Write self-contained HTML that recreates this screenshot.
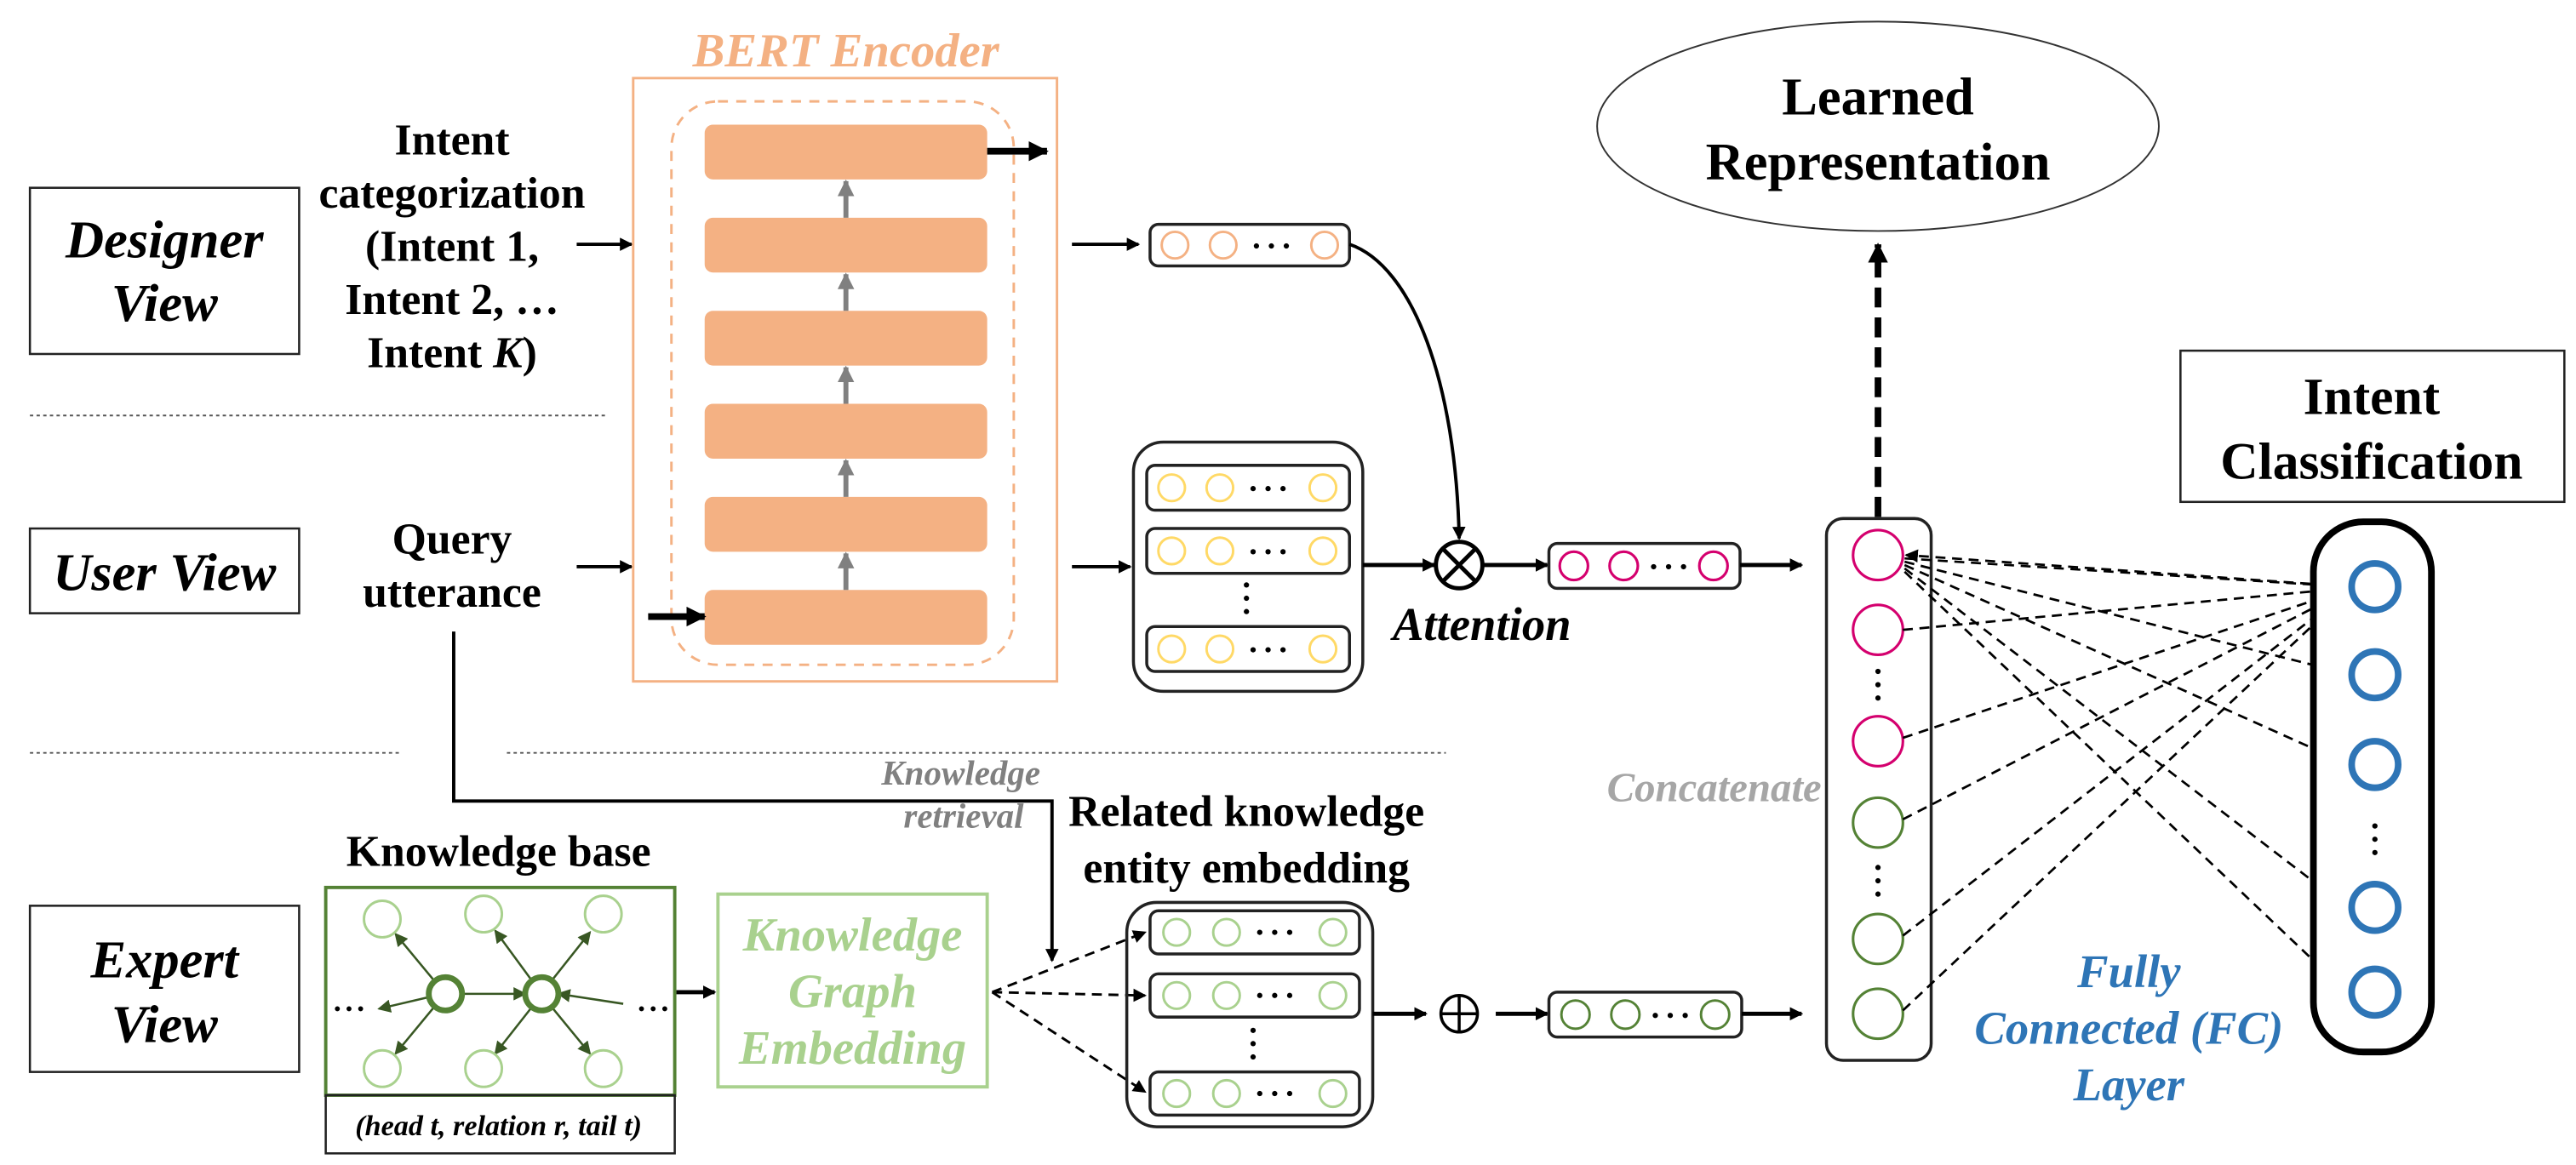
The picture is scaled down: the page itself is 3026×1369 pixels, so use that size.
<!DOCTYPE html>
<html><head><meta charset="utf-8"><style>
html,body{margin:0;padding:0;background:#fff;}
svg{display:block;}
text{font-family:"Liberation Serif",serif;font-weight:bold;}
</style></head><body>
<svg width="3026" height="1369" viewBox="0 0 1550 701" preserveAspectRatio="none" xmlns="http://www.w3.org/2000/svg">
<defs>
<marker id="ah" markerWidth="8" markerHeight="8" refX="7" refY="4" orient="auto" markerUnits="userSpaceOnUse"><path d="M0,0 L8,4 L0,8 z" fill="#000"/></marker>
<marker id="ahb" markerWidth="12" markerHeight="12" refX="11" refY="6" orient="auto" markerUnits="userSpaceOnUse"><path d="M0,0 L12,6 L0,12 z" fill="#000"/></marker>
<marker id="ahg" markerWidth="10" markerHeight="10" refX="9" refY="5" orient="auto" markerUnits="userSpaceOnUse"><path d="M0,0 L10,5 L0,10 z" fill="#808080"/></marker>
<marker id="ahk" markerWidth="8" markerHeight="8" refX="7" refY="4" orient="auto" markerUnits="userSpaceOnUse"><path d="M0,0 L8,4 L0,8 z" fill="#385723"/></marker>
</defs>

<!-- View boxes -->
<rect x="18" y="113" width="162" height="100" fill="none" stroke="#222" stroke-width="1.3"/>
<text x="99" y="155" font-size="32" font-style="italic" text-anchor="middle">Designer</text>
<text x="99" y="193" font-size="32" font-style="italic" text-anchor="middle">View</text>
<rect x="18" y="318" width="162" height="51" fill="none" stroke="#222" stroke-width="1.3"/>
<text x="99" y="355" font-size="32" font-style="italic" text-anchor="middle">User View</text>
<rect x="18" y="545" width="162" height="100" fill="none" stroke="#222" stroke-width="1.3"/>
<text x="99" y="588" font-size="32" font-style="italic" text-anchor="middle">Expert</text>
<text x="99" y="627" font-size="32" font-style="italic" text-anchor="middle">View</text>

<!-- dotted separators -->
<line x1="18" y1="250" x2="365" y2="250" stroke="#555" stroke-width="1" stroke-dasharray="2,2"/>
<line x1="18" y1="453" x2="240" y2="453" stroke="#555" stroke-width="1" stroke-dasharray="2,2"/>
<line x1="305" y1="453" x2="870" y2="453" stroke="#555" stroke-width="1" stroke-dasharray="2,2"/>

<!-- Intent categorization text -->
<g font-size="26.5" text-anchor="middle">
<text x="272" y="93">Intent</text>
<text x="272" y="125">categorization</text>
<text x="272" y="157">(Intent 1,</text>
<text x="272" y="189">Intent 2, …</text>
<text x="272" y="221">Intent <tspan font-style="italic">K</tspan>)</text>
<text x="272" y="333">Query</text>
<text x="272" y="365">utterance</text>
</g>
<line x1="347" y1="147" x2="380" y2="147" stroke="#000" stroke-width="2" marker-end="url(#ah)"/>
<line x1="347" y1="341" x2="380" y2="341" stroke="#000" stroke-width="2" marker-end="url(#ah)"/>

<!-- BERT -->
<text x="509" y="40" font-size="29" font-style="italic" fill="#f4b183" text-anchor="middle">BERT Encoder</text>
<rect x="381" y="47" width="255" height="363" fill="none" stroke="#f4b183" stroke-width="1.5"/>
<rect x="404" y="61" width="206" height="339" rx="28" fill="none" stroke="#f4b183" stroke-width="1.5" stroke-dasharray="6,5"/>
<g fill="#f4b183">
<rect x="424" y="75" width="170" height="33" rx="5"/>
<rect x="424" y="131" width="170" height="33" rx="5"/>
<rect x="424" y="187" width="170" height="33" rx="5"/>
<rect x="424" y="243" width="170" height="33" rx="5"/>
<rect x="424" y="299" width="170" height="33" rx="5"/>
<rect x="424" y="355" width="170" height="33" rx="5"/>
</g>
<g stroke="#808080" stroke-width="3" marker-end="url(#ahg)">
<line x1="509" y1="131" x2="509" y2="109"/>
<line x1="509" y1="187" x2="509" y2="165"/>
<line x1="509" y1="243" x2="509" y2="221"/>
<line x1="509" y1="299" x2="509" y2="277"/>
<line x1="509" y1="355" x2="509" y2="333"/>
</g>
<line x1="594" y1="91" x2="630" y2="91" stroke="#000" stroke-width="4" marker-end="url(#ahb)"/>
<line x1="390" y1="371" x2="424" y2="371" stroke="#000" stroke-width="4" marker-end="url(#ahb)"/>

<line x1="645" y1="147" x2="685" y2="147" stroke="#000" stroke-width="2" marker-end="url(#ah)"/>
<line x1="645" y1="341" x2="680" y2="341" stroke="#000" stroke-width="2" marker-end="url(#ah)"/>

<!-- designer vector -->
<rect x="692" y="135" width="120" height="25" rx="5" fill="#fff" stroke="#222" stroke-width="1.8"/>
<g fill="none" stroke="#f4b183" stroke-width="1.5"><circle cx="707" cy="147.5" r="8"/><circle cx="736" cy="147.5" r="8"/><circle cx="797" cy="147.5" r="8"/></g>
<g fill="#000"><circle cx="756" cy="148" r="1.6"/><circle cx="765" cy="148" r="1.6"/><circle cx="774" cy="148" r="1.6"/></g>

<!-- user group -->
<rect x="682" y="266" width="138" height="150" rx="18" fill="none" stroke="#222" stroke-width="1.8"/>
<g fill="#fff" stroke="#222" stroke-width="1.8">
<rect x="690" y="280" width="122" height="27" rx="5"/>
<rect x="690" y="318" width="122" height="27" rx="5"/>
<rect x="690" y="377" width="122" height="27" rx="5"/>
</g>
<g fill="none" stroke="#ffd966" stroke-width="1.5">
<circle cx="705" cy="293.5" r="8"/><circle cx="734" cy="293.5" r="8"/><circle cx="796" cy="293.5" r="8"/>
<circle cx="705" cy="331.5" r="8"/><circle cx="734" cy="331.5" r="8"/><circle cx="796" cy="331.5" r="8"/>
<circle cx="705" cy="390.5" r="8"/><circle cx="734" cy="390.5" r="8"/><circle cx="796" cy="390.5" r="8"/>
</g>
<g fill="#000">
<circle cx="754" cy="294" r="1.6"/><circle cx="763" cy="294" r="1.6"/><circle cx="772" cy="294" r="1.6"/>
<circle cx="754" cy="332" r="1.6"/><circle cx="763" cy="332" r="1.6"/><circle cx="772" cy="332" r="1.6"/>
<circle cx="754" cy="391" r="1.6"/><circle cx="763" cy="391" r="1.6"/><circle cx="772" cy="391" r="1.6"/>
<circle cx="750" cy="352" r="1.6"/><circle cx="750" cy="360" r="1.6"/><circle cx="750" cy="368" r="1.6"/>
</g>

<!-- attention -->
<path d="M812,147 C850,160 876,230 878,324" fill="none" stroke="#000" stroke-width="2" marker-end="url(#ah)"/>
<line x1="820" y1="340" x2="863" y2="340" stroke="#000" stroke-width="2.5" marker-end="url(#ah)"/>
<circle cx="878" cy="340" r="14" fill="#fff" stroke="#000" stroke-width="2.5"/>
<line x1="868" y1="330" x2="888" y2="350" stroke="#000" stroke-width="2.5"/>
<line x1="888" y1="330" x2="868" y2="350" stroke="#000" stroke-width="2.5"/>
<line x1="892" y1="340" x2="931" y2="340" stroke="#000" stroke-width="2.5" marker-end="url(#ah)"/>
<text x="838" y="385" font-size="28" font-style="italic">Attention</text>

<!-- pink vector -->
<rect x="932" y="327" width="115" height="27" rx="5" fill="#fff" stroke="#222" stroke-width="1.8"/>
<g fill="none" stroke="#d4006e" stroke-width="1.6"><circle cx="947" cy="340.5" r="8.5"/><circle cx="977" cy="340.5" r="8.5"/><circle cx="1031" cy="340.5" r="8.5"/></g>
<g fill="#000"><circle cx="995" cy="341" r="1.6"/><circle cx="1004" cy="341" r="1.6"/><circle cx="1013" cy="341" r="1.6"/></g>
<line x1="1047" y1="340" x2="1084" y2="340" stroke="#000" stroke-width="2.5" marker-end="url(#ah)"/>

<!-- knowledge retrieval line -->
<polyline points="273,380 273,482 633,482 633,578" fill="none" stroke="#000" stroke-width="2" marker-end="url(#ah)"/>
<text x="626" y="472" font-size="21" font-style="italic" fill="#808080" text-anchor="end">Knowledge</text>
<text x="616" y="498" font-size="21" font-style="italic" fill="#808080" text-anchor="end">retrieval</text>

<!-- knowledge base -->
<text x="300" y="521" font-size="26.5" text-anchor="middle">Knowledge base</text>
<rect x="196" y="534" width="210" height="125" fill="none" stroke="#548235" stroke-width="2"/>
<rect x="196" y="659" width="210" height="35" fill="none" stroke="#222" stroke-width="1.3"/>
<text x="300" y="683" font-size="17.5" font-style="italic" text-anchor="middle">(head t, relation r, tail t)</text>
<g stroke="#385723" stroke-width="1.3" marker-end="url(#ahk)">
<line x1="262" y1="591" x2="238" y2="562"/>
<line x1="262" y1="605" x2="238" y2="634"/>
<line x1="258" y1="600" x2="228" y2="607"/>
<line x1="320" y1="590" x2="298" y2="560"/>
<line x1="320" y1="606" x2="298" y2="634"/>
<line x1="332" y1="590" x2="355" y2="561"/>
<line x1="332" y1="606" x2="355" y2="634"/>
<line x1="278" y1="598" x2="316" y2="598"/>
<line x1="375" y1="604" x2="336" y2="598"/>
</g>
<g fill="none" stroke="#a9d18e" stroke-width="1.5">
<circle cx="230" cy="553" r="11"/><circle cx="291" cy="550" r="11"/><circle cx="363" cy="550" r="11"/>
<circle cx="230" cy="643" r="11"/><circle cx="291" cy="643" r="11"/><circle cx="363" cy="643" r="11"/>
</g>
<g fill="#fff" stroke="#548235" stroke-width="3.5"><circle cx="268" cy="598" r="10"/><circle cx="326" cy="598" r="10"/></g>
<g fill="#000"><circle cx="203" cy="607" r="1.5"/><circle cx="210" cy="607" r="1.5"/><circle cx="217" cy="607" r="1.5"/>
<circle cx="386" cy="607" r="1.5"/><circle cx="393" cy="607" r="1.5"/><circle cx="400" cy="607" r="1.5"/></g>
<line x1="407" y1="597" x2="430" y2="597" stroke="#000" stroke-width="2.5" marker-end="url(#ah)"/>

<!-- KGE -->
<rect x="432" y="538" width="162" height="116" fill="none" stroke="#a9d18e" stroke-width="2"/>
<g font-size="29" font-style="italic" fill="#a9d18e" text-anchor="middle">
<text x="513" y="572">Knowledge</text>
<text x="513" y="606">Graph</text>
<text x="513" y="640">Embedding</text>
</g>
<g stroke="#000" stroke-width="1.5" stroke-dasharray="6,4" marker-end="url(#ah)">
<line x1="597" y1="597" x2="689" y2="561"/>
<line x1="597" y1="597" x2="689" y2="599"/>
<line x1="597" y1="597" x2="689" y2="657"/>
</g>

<!-- related knowledge -->
<text x="750" y="497" font-size="26.5" text-anchor="middle">Related knowledge</text>
<text x="750" y="531" font-size="26.5" text-anchor="middle">entity embedding</text>
<rect x="678" y="543" width="148" height="135" rx="18" fill="none" stroke="#222" stroke-width="1.8"/>
<g fill="#fff" stroke="#222" stroke-width="1.8">
<rect x="692" y="548" width="126" height="26" rx="5"/>
<rect x="692" y="586" width="126" height="26" rx="5"/>
<rect x="692" y="645" width="126" height="26" rx="5"/>
</g>
<g fill="none" stroke="#a9d18e" stroke-width="1.5">
<circle cx="708" cy="561" r="8"/><circle cx="738" cy="561" r="8"/><circle cx="802" cy="561" r="8"/>
<circle cx="708" cy="599" r="8"/><circle cx="738" cy="599" r="8"/><circle cx="802" cy="599" r="8"/>
<circle cx="708" cy="658" r="8"/><circle cx="738" cy="658" r="8"/><circle cx="802" cy="658" r="8"/>
</g>
<g fill="#000">
<circle cx="758" cy="561" r="1.6"/><circle cx="767" cy="561" r="1.6"/><circle cx="776" cy="561" r="1.6"/>
<circle cx="758" cy="599" r="1.6"/><circle cx="767" cy="599" r="1.6"/><circle cx="776" cy="599" r="1.6"/>
<circle cx="758" cy="658" r="1.6"/><circle cx="767" cy="658" r="1.6"/><circle cx="776" cy="658" r="1.6"/>
<circle cx="754" cy="620" r="1.6"/><circle cx="754" cy="628" r="1.6"/><circle cx="754" cy="636" r="1.6"/>
</g>

<!-- oplus -->
<line x1="826" y1="610" x2="858" y2="610" stroke="#000" stroke-width="2.5" marker-end="url(#ah)"/>
<circle cx="878" cy="610" r="11" fill="#fff" stroke="#000" stroke-width="1.8"/>
<line x1="867" y1="610" x2="889" y2="610" stroke="#000" stroke-width="1.8"/>
<line x1="878" y1="599" x2="878" y2="621" stroke="#000" stroke-width="1.8"/>
<line x1="900" y1="610" x2="931" y2="610" stroke="#000" stroke-width="2.5" marker-end="url(#ah)"/>

<!-- green vector -->
<rect x="932" y="597" width="116" height="27" rx="5" fill="#fff" stroke="#222" stroke-width="1.8"/>
<g fill="none" stroke="#548235" stroke-width="1.5"><circle cx="948" cy="610.5" r="8.5"/><circle cx="978" cy="610.5" r="8.5"/><circle cx="1032" cy="610.5" r="8.5"/></g>
<g fill="#000"><circle cx="996" cy="611" r="1.6"/><circle cx="1005" cy="611" r="1.6"/><circle cx="1014" cy="611" r="1.6"/></g>
<line x1="1048" y1="610" x2="1084" y2="610" stroke="#000" stroke-width="2.5" marker-end="url(#ah)"/>

<!-- concat column -->
<text x="1096" y="482" font-size="25" font-style="italic" fill="#a6a6a6" text-anchor="end">Concatenate</text>
<rect x="1099" y="312" width="63" height="326" rx="10" fill="#fff" stroke="#222" stroke-width="1.8"/>
<g fill="none" stroke="#d4006e" stroke-width="1.6"><circle cx="1130" cy="334" r="15"/><circle cx="1130" cy="379" r="15"/><circle cx="1130" cy="446" r="15"/></g>
<g fill="none" stroke="#548235" stroke-width="1.6"><circle cx="1130" cy="495" r="15"/><circle cx="1130" cy="565" r="15"/><circle cx="1130" cy="610" r="15"/></g>
<g fill="#000"><circle cx="1130" cy="404" r="1.6"/><circle cx="1130" cy="412" r="1.6"/><circle cx="1130" cy="420" r="1.6"/>
<circle cx="1130" cy="522" r="1.6"/><circle cx="1130" cy="530" r="1.6"/><circle cx="1130" cy="538" r="1.6"/></g>

<!-- learned representation -->
<line x1="1130" y1="311" x2="1130" y2="147" stroke="#000" stroke-width="4" stroke-dasharray="12,6" marker-end="url(#ahb)"/>
<ellipse cx="1130" cy="76" rx="169" ry="63" fill="#fff" stroke="#333" stroke-width="1"/>
<text x="1130" y="69" font-size="32" text-anchor="middle">Learned</text>
<text x="1130" y="108" font-size="32" text-anchor="middle">Representation</text>

<!-- intent classification -->
<rect x="1312" y="211" width="231" height="91" fill="none" stroke="#222" stroke-width="1.3"/>
<text x="1427" y="249" font-size="31.5" text-anchor="middle">Intent</text>
<text x="1427" y="288" font-size="31.5" text-anchor="middle">Classification</text>

<!-- dashed FC connections -->
<g stroke="#000" stroke-width="1.4" stroke-dasharray="6,4" fill="none">
<line x1="1146" y1="336" x2="1411" y2="353" marker-end="url(#ah)"/>
<line x1="1146" y1="338" x2="1411" y2="405" marker-end="url(#ah)"/>
<line x1="1146" y1="340" x2="1411" y2="459" marker-end="url(#ah)"/>
<line x1="1146" y1="342" x2="1411" y2="545" marker-end="url(#ah)"/>
<line x1="1146" y1="344" x2="1411" y2="596" marker-end="url(#ah)"/>
<line x1="1145" y1="379" x2="1411" y2="354" marker-end="url(#ah)"/>
<line x1="1145" y1="444" x2="1411" y2="355" marker-end="url(#ah)"/>
<line x1="1145" y1="493" x2="1411" y2="356" marker-end="url(#ah)"/>
<line x1="1145" y1="563" x2="1411" y2="357" marker-end="url(#ah)"/>
<line x1="1145" y1="608" x2="1411" y2="358" marker-end="url(#ah)"/>
<line x1="1400" y1="352" x2="1147" y2="334" marker-end="url(#ah)"/>
</g>

<!-- output column -->
<rect x="1392" y="314" width="71" height="319" rx="30" fill="#fff" stroke="#000" stroke-width="4"/>
<g fill="none" stroke="#2e75b6" stroke-width="4"><circle cx="1429" cy="353" r="14"/><circle cx="1429" cy="406" r="14"/><circle cx="1429" cy="460" r="14"/><circle cx="1429" cy="546" r="14"/><circle cx="1429" cy="597" r="14"/></g>
<g fill="#000"><circle cx="1429" cy="497" r="1.6"/><circle cx="1429" cy="505" r="1.6"/><circle cx="1429" cy="513" r="1.6"/></g>

<g font-size="28" font-style="italic" fill="#2e75b6" text-anchor="middle">
<text x="1281" y="594">Fully</text>
<text x="1281" y="628">Connected (FC)</text>
<text x="1281" y="662">Layer</text>
</g>
</svg>
</body></html>
